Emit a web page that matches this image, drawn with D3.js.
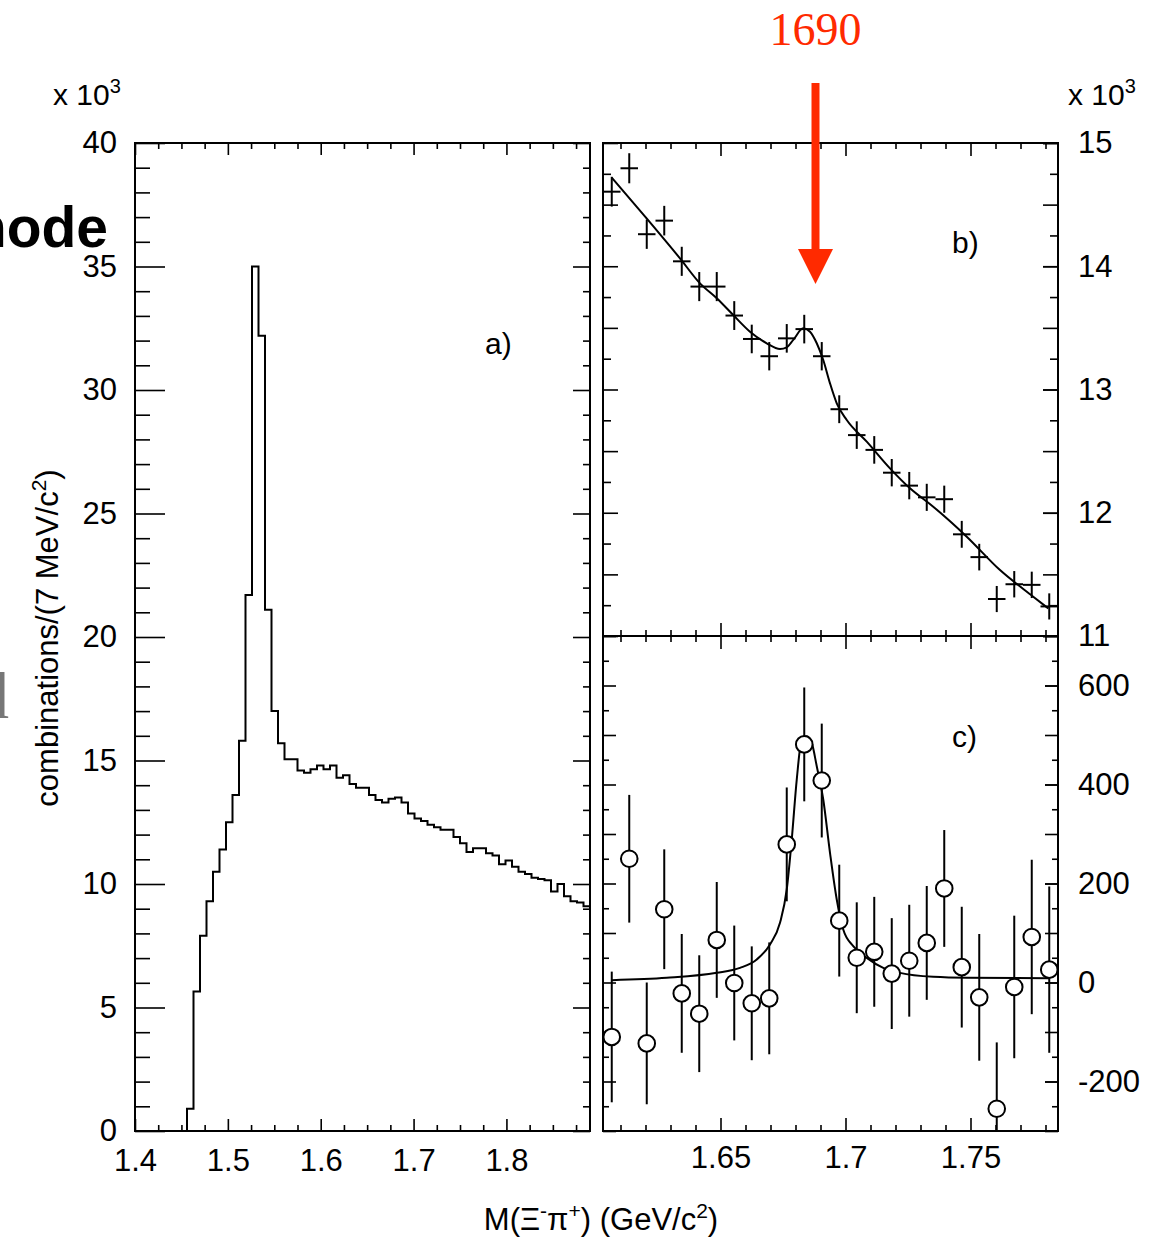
<!DOCTYPE html>
<html>
<head>
<meta charset="utf-8">
<script src="https://cdn.jsdelivr.net/npm/d3@7"></script>
<style>
body { margin: 0; background: #fff; }
svg text { font-family: "Liberation Sans", Arial, sans-serif; fill: #000; }
.frame { fill: none; stroke: #000; stroke-width: 2; }
.axis path { display: none; }
.axis line { stroke: #000; stroke-width: 1.6; }
.axis text { font-size: 31px; }
.hist { fill: none; stroke: #000; stroke-width: 2; }
.fit { fill: none; stroke: #000; stroke-width: 2; }
.err { stroke: #000; stroke-width: 2; }
</style>
</head>
<body>
<div id="chart"></div>
<script>
var w = 1174;
var h = 1241;

// a) histogram, 7 MeV bins from 1.400 GeV (values in 10^3)
var histLow = 1.4;
var histBinWidth = 0.007;
var histCounts = [0, 0, 0, 0, 0, 0, 0, 0, 0.9, 5.65, 7.9, 9.3, 10.5, 11.4, 12.5, 13.6, 15.8, 21.7,
	35.0, 32.2, 21.1, 17.0, 15.7, 15.05, 15.05, 14.6, 14.5, 14.65, 14.8, 14.65, 14.8, 14.3, 14.4,
	14.05, 13.9, 13.9, 13.6, 13.4, 13.3, 13.45, 13.5, 13.3, 12.85, 12.65, 12.55, 12.4, 12.3, 12.2,
	12.2, 11.9, 11.65, 11.3, 11.45, 11.45, 11.25, 11.15, 10.8, 10.95, 10.7, 10.5, 10.4, 10.25,
	10.2, 10.15, 9.7, 10.0, 9.5, 9.3, 9.25, 9.1];

// b) and c) share the bin centres
var zoomMass = [1.6065, 1.6135, 1.6205, 1.6275, 1.6345, 1.6415, 1.6485, 1.6555, 1.6625, 1.6695,
	1.6765, 1.6835, 1.6905, 1.6975, 1.7045, 1.7115, 1.7185, 1.7255, 1.7325, 1.7395, 1.7465,
	1.7535, 1.7605, 1.7675, 1.7745, 1.7815];

// b) counts (10^3) and errors
var bCounts = [14.605, 14.795, 14.26, 14.37, 14.04, 13.835, 13.835, 13.6, 13.41, 13.27, 13.415,
	13.49, 13.27, 12.84, 12.63, 12.51, 12.325, 12.22, 12.125, 12.11, 11.825, 11.64, 11.30, 11.42,
	11.415, 11.24];
var bErr = [0.121, 0.122, 0.119, 0.120, 0.118, 0.118, 0.118, 0.117, 0.116, 0.115, 0.116, 0.116,
	0.115, 0.113, 0.112, 0.112, 0.111, 0.111, 0.110, 0.110, 0.109, 0.108, 0.106, 0.107, 0.107, 0.106];

// b) fit curve
var bFitMass = [1.6065, 1.6201, 1.6338, 1.6418, 1.6485, 1.6551, 1.6618, 1.6685, 1.6738, 1.6765,
	1.6791, 1.6831, 1.6858, 1.6885, 1.6911, 1.6938, 1.6965, 1.7005, 1.7085, 1.7178, 1.7258,
	1.7351, 1.7485, 1.7618, 1.7751, 1.7811];
var bFitCounts = [14.719, 14.397, 14.064, 13.861, 13.740, 13.604, 13.469, 13.375, 13.329, 13.342,
	13.402, 13.496, 13.469, 13.375, 13.239, 13.050, 12.888, 12.753, 12.577, 12.360, 12.198,
	12.049, 11.806, 11.535, 11.319, 11.224];

// c) background-subtracted counts and errors
var cCounts = [-110, 250, -123, 148, -22, -63, 86, -1, -42, -32, 279, 481, 408, 125, 50, 62, 18,
	44, 80, 190, 31, -30, -255, -9, 92, 26];
var cErr = [132, 129, 123, 121, 120, 118, 117, 116, 115, 113, 115, 115, 115, 113, 112, 111, 112,
	113, 115, 118, 122, 128, 134, 144, 156, 168];

// c) fit curve
var cFitMass = [1.6065, 1.6285, 1.6485, 1.6578, 1.6645, 1.6698, 1.6738, 1.6765, 1.6785, 1.6805,
	1.6825, 1.6845, 1.6865, 1.6885, 1.6911, 1.6938, 1.6965, 1.6991, 1.7031, 1.7085, 1.7151,
	1.7218, 1.7351, 1.7485, 1.7815];
var cFitCounts = [4.7, 9.4, 19.5, 29.6, 46.5, 76.8, 120.5, 187.9, 288.9, 410, 491, 497.6, 484,
	437, 369.7, 262, 167.7, 107, 73.4, 49.8, 29.6, 19.5, 11.4, 9.4, 8.7];

// tick labels
var aYTicks = [0, 5, 10, 15, 20, 25, 30, 35, 40];
var aXTicks = [1.4, 1.5, 1.6, 1.7, 1.8];
var zoomXTicks = [1.65, 1.7, 1.75];
var bYTicks = [11, 12, 13, 14, 15];
var cYTicks = [-200, 0, 200, 400, 600];

var arrowMass = 1.688;
var arrowText = "1690";

function init() {
	var svg = d3.select("#chart").append("svg")
		.attr("width", w)
		.attr("height", h);

	// scales
	var xA = d3.scaleLinear().domain([1.4, 1.89]).range([135, 590]);
	var yA = d3.scaleLinear().domain([0, 40]).range([1131, 143]);
	var xB = d3.scaleLinear().domain([1.603, 1.785]).range([603, 1058]);
	var yB = d3.scaleLinear().domain([11, 15]).range([636, 143]);
	var yC = d3.scaleLinear().domain([-300, 700]).range([1131, 636]);

	// clipped-off slide text behind the plot
	svg.append("text")
		.attr("x", 108).attr("y", 247)
		.attr("text-anchor", "end")
		.style("font-size", "57px")
		.style("font-weight", "bold")
		.text("mode");
	svg.append("text")
		.attr("x", 9).attr("y", 718)
		.attr("text-anchor", "end")
		.style("font-family", "'Liberation Serif', serif")
		.style("font-size", "66px")
		.style("fill", "#777")
		.text("d");

	function axis(gen, scale, vals, size, tx, ty, labels, pad) {
		var a = gen(scale).tickValues(vals).tickSize(size).tickPadding(pad || 8)
			.tickFormat(labels ? function(d) { return String(d); } : "");
		svg.append("g")
			.attr("class", "axis")
			.attr("transform", "translate(" + tx + "," + ty + ")")
			.call(a);
	}

	function near(v, step) {
		return Math.abs(v / step - Math.round(v / step)) < 1e-6;
	}

	// ---- panel a ----
	var aMinorY = d3.range(0, 40.5, 1).filter(function(d) { return d % 5 != 0; });
	var aMinorX = d3.range(1.4, 1.8901, 0.025).filter(function(d) { return !near(d, 0.1); });

	axis(d3.axisLeft, yA, aYTicks, -30, 135, 0, true, 18);
	axis(d3.axisLeft, yA, aMinorY, -15, 135, 0, false);
	axis(d3.axisRight, yA, aYTicks, -17, 590, 0, false);
	axis(d3.axisRight, yA, aMinorY, -7, 590, 0, false);
	axis(d3.axisBottom, xA, aXTicks, -12, 0, 1131, true, 18);
	axis(d3.axisBottom, xA, aMinorX, -6, 0, 1131, false);
	axis(d3.axisTop, xA, aXTicks, -12, 0, 143, false);
	axis(d3.axisTop, xA, aMinorX, -6, 0, 143, false);

	var histPts = histCounts.map(function(v, i) { return [histLow + i * histBinWidth, v]; });
	histPts.push([histLow + histCounts.length * histBinWidth, histCounts[histCounts.length - 1]]);
	var histLine = d3.line()
		.x(function(d) { return xA(d[0]); })
		.y(function(d) { return yA(d[1]); })
		.curve(d3.curveStepAfter);
	svg.append("path")
		.datum(histPts)
		.attr("class", "hist")
		.attr("d", histLine);

	svg.append("rect").attr("class", "frame")
		.attr("x", 135).attr("y", 143).attr("width", 455).attr("height", 988);

	svg.append("text").attr("x", 485).attr("y", 354).style("font-size", "30px").text("a)");

	// ---- panels b and c ----
	var zMinorX = d3.range(1.61, 1.781, 0.01).filter(function(d) { return !near(d, 0.05); });
	var bTicksLong = d3.range(11, 15.01, 0.5);
	var bTicksShort = d3.range(11.25, 15, 0.5);
	var cTicksLong = d3.range(-300, 701, 100);
	var cTicksShort = d3.range(-250, 700, 100);

	// b
	axis(d3.axisLeft, yB, bTicksLong, -15, 603, 0, false);
	axis(d3.axisLeft, yB, bTicksShort, -8, 603, 0, false);
	axis(d3.axisRight, yB, bTicksLong, -15, 1058, 0, false);
	axis(d3.axisRight, yB, bTicksShort, -8, 1058, 0, false);
	axis(d3.axisRight, yB, bYTicks, -15, 1058, 0, true, 20);
	axis(d3.axisTop, xB, zoomXTicks, -13, 0, 143, false);
	axis(d3.axisTop, xB, zMinorX, -6, 0, 143, false);
	axis(d3.axisBottom, xB, zoomXTicks, -13, 0, 636, false);
	axis(d3.axisBottom, xB, zMinorX, -6, 0, 636, false);

	// c
	axis(d3.axisLeft, yC, cTicksLong, -13, 603, 0, false);
	axis(d3.axisLeft, yC, cTicksShort, -6, 603, 0, false);
	axis(d3.axisRight, yC, cTicksLong, -13, 1058, 0, false);
	axis(d3.axisRight, yC, cTicksShort, -6, 1058, 0, false);
	axis(d3.axisRight, yC, cYTicks, -13, 1058, 0, true, 20);
	axis(d3.axisTop, xB, zoomXTicks, -13, 0, 636, false);
	axis(d3.axisTop, xB, zMinorX, -6, 0, 636, false);
	axis(d3.axisBottom, xB, zoomXTicks, -13, 0, 1131, true, 15);
	axis(d3.axisBottom, xB, zMinorX, -6, 0, 1131, false);

	var defs = svg.append("defs");
	defs.append("clipPath").attr("id", "clipB").append("rect")
		.attr("x", 603).attr("y", 143).attr("width", 455).attr("height", 493);
	defs.append("clipPath").attr("id", "clipC").append("rect")
		.attr("x", 603).attr("y", 636).attr("width", 455).attr("height", 495);

	var gB = svg.append("g").attr("clip-path", "url(#clipB)");
	var gC = svg.append("g").attr("clip-path", "url(#clipC)");

	var bFit = d3.line()
		.x(function(d, i) { return xB(bFitMass[i]); })
		.y(function(d) { return yB(d); })
		.curve(d3.curveMonotoneX);
	gB.append("path").datum(bFitCounts).attr("class", "fit").attr("d", bFit);

	var half = histBinWidth / 2;
	gB.selectAll(".bx").data(bCounts).enter().append("line")
		.attr("class", "err")
		.attr("x1", function(d, i) { return xB(zoomMass[i] - half); })
		.attr("x2", function(d, i) { return xB(zoomMass[i] + half); })
		.attr("y1", function(d) { return yB(d); })
		.attr("y2", function(d) { return yB(d); });
	gB.selectAll(".by").data(bCounts).enter().append("line")
		.attr("class", "err")
		.attr("x1", function(d, i) { return xB(zoomMass[i]); })
		.attr("x2", function(d, i) { return xB(zoomMass[i]); })
		.attr("y1", function(d, i) { return yB(d - bErr[i]); })
		.attr("y2", function(d, i) { return yB(d + bErr[i]); });

	var cFit = d3.line()
		.x(function(d, i) { return xB(cFitMass[i]); })
		.y(function(d) { return yC(d); })
		.curve(d3.curveMonotoneX);
	gC.append("path").datum(cFitCounts).attr("class", "fit").attr("d", cFit);

	gC.selectAll(".cy").data(cCounts).enter().append("line")
		.attr("class", "err")
		.attr("x1", function(d, i) { return xB(zoomMass[i]); })
		.attr("x2", function(d, i) { return xB(zoomMass[i]); })
		.attr("y1", function(d, i) { return yC(d - cErr[i]); })
		.attr("y2", function(d, i) { return yC(d + cErr[i]); });
	gC.selectAll("circle").data(cCounts).enter().append("circle")
		.attr("cx", function(d, i) { return xB(zoomMass[i]); })
		.attr("cy", function(d) { return yC(d); })
		.attr("r", 8.3)
		.attr("fill", "#fff")
		.attr("stroke", "#000")
		.attr("stroke-width", 2);

	svg.append("rect").attr("class", "frame")
		.attr("x", 603).attr("y", 143).attr("width", 455).attr("height", 988);
	svg.append("line").attr("class", "frame")
		.attr("x1", 603).attr("x2", 1058).attr("y1", 636).attr("y2", 636);

	svg.append("text").attr("x", 952).attr("y", 253).style("font-size", "30px").text("b)");
	svg.append("text").attr("x", 952).attr("y", 747).style("font-size", "30px").text("c)");

	// exponent labels
	function expo(x, y) {
		var t = svg.append("text").attr("x", x).attr("y", y).style("font-size", "30px");
		t.append("tspan").text("x 10");
		t.append("tspan").attr("dy", -12).style("font-size", "20px").text("3");
	}
	expo(53, 105);
	expo(1068, 105);

	// axis titles
	var yt = svg.append("text")
		.attr("transform", "translate(58,638) rotate(-90)")
		.attr("text-anchor", "middle")
		.style("font-size", "31px");
	yt.append("tspan").text("combinations/(7 MeV/c");
	yt.append("tspan").attr("dy", -12).style("font-size", "21px").text("2");
	yt.append("tspan").attr("dy", 12).text(")");

	var xt = svg.append("text")
		.attr("x", 601).attr("y", 1230)
		.attr("text-anchor", "middle")
		.style("font-size", "31px");
	xt.append("tspan").text("M(\u039E");
	xt.append("tspan").attr("dy", -12).style("font-size", "21px").text("-");
	xt.append("tspan").attr("dy", 12).text("\u03C0");
	xt.append("tspan").attr("dy", -12).style("font-size", "21px").text("+");
	xt.append("tspan").attr("dy", 12).text(") (GeV/c");
	xt.append("tspan").attr("dy", -12).style("font-size", "21px").text("2");
	xt.append("tspan").attr("dy", 12).text(")");

	// red arrow at the new state
	var ax = xB(arrowMass);
	var red = "#ff2a00";
	svg.append("rect")
		.attr("x", ax - 4).attr("y", 83).attr("width", 8).attr("height", 170)
		.attr("fill", red);
	svg.append("path")
		.attr("d", "M" + (ax - 17.5) + ",249L" + (ax + 17.5) + ",249L" + ax + ",284Z")
		.attr("fill", red);
	svg.append("text")
		.attr("x", ax).attr("y", 45)
		.attr("text-anchor", "middle")
		.style("font-family", "'Liberation Serif', serif")
		.style("font-size", "46px")
		.style("fill", red)
		.text(arrowText);
}

window.onload = init;
</script>
</body>
</html>
